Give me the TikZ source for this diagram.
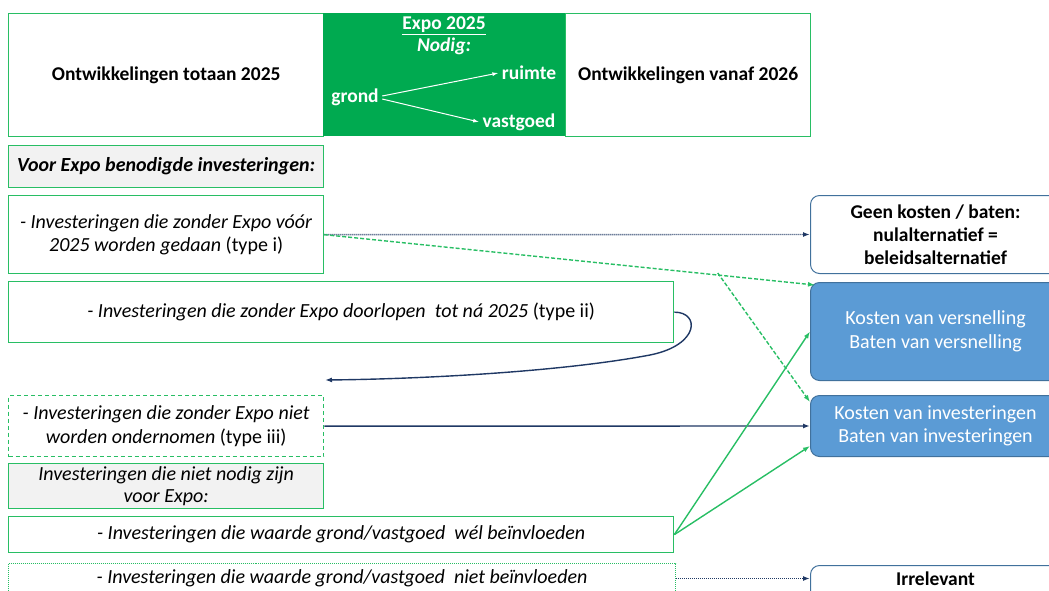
\documentclass[tikz,border=0pt]{standalone}
\usepackage{fontspec}
\setmainfont{Carlito}
\usetikzlibrary{arrows.meta,calc}

\definecolor{expogreen}{RGB}{0,170,80}
\definecolor{linegreen}{RGB}{40,190,100}
\definecolor{boxblue}{RGB}{91,155,213}
\definecolor{edgeblue}{RGB}{65,113,156}
\definecolor{navy}{RGB}{31,56,100}
\definecolor{lightgray}{RGB}{242,242,242}

\tikzset{
  bigfont/.style={font=\fontsize{20}{23.5}\selectfont},
  leftbox/.style={bigfont, draw=linegreen, line width=1.3pt, anchor=north west,
    inner sep=0pt, align=center, text=black},
  headbox/.style={leftbox, fill=lightgray},
  rightbox/.style={bigfont, draw=edgeblue, line width=1pt, rounded corners=9pt,
    anchor=north west, inner sep=0pt, align=center, minimum width=250pt},
  bluebox/.style={rightbox, fill=boxblue, text=white},
  expotext/.style={text=white, font=\fontsize{19.5}{23.5}\selectfont\bfseries},
  whitearrow/.style={white, line width=1pt, -{Latex[length=6pt,width=4pt]}},
  navyarrow/.style={navy, line width=1.4pt, -{Latex[length=7pt,width=5pt]}},
  dotarrow/.style={navy, line width=1.4pt, dash pattern=on 1pt off 1pt,
    -{Latex[length=7pt,width=5pt]}},
  greenarrow/.style={linegreen, line width=1.4pt, -{Latex[length=7pt,width=5pt]}},
  greendash/.style={linegreen, line width=1.4pt, dash pattern=on 4pt off 2pt}
}

\begin{document}
\begin{tikzpicture}[x=1pt,y=-1pt]

\useasboundingbox (0,0) rectangle (1049,590);
\clip (0,0) rectangle (1049,590);

% The top row
\node[leftbox, font=\fontsize{19.5}{23.5}\selectfont\bfseries, minimum width=315pt, minimum height=123pt]
  (tot) at (8,13) {Ontwikkelingen totaan 2025};
\node[fill=expogreen, anchor=north west, inner sep=0pt, minimum width=242pt, minimum height=123pt]
  (expo) at (323,13) {};
\node[leftbox, font=\fontsize{19.5}{23.5}\selectfont\bfseries, minimum width=245pt, minimum height=123pt]
  (vanaf) at (565,13) {Ontwikkelingen vanaf 2026};

% Inside the Expo box
\node[expotext] (expotitle) at (444,26) {\underline{Expo 2025}};
\node[expotext] (nodig) at (444,46) {\itshape Nodig:};
\node[expotext] (grond) at (355,97) {grond};
\node[expotext] (ruimte) at (529,73) {ruimte};
\node[expotext] (vastgoed) at (519,122) {vastgoed};
\draw[whitearrow] ([yshift=1pt]grond.east) -- (ruimte.west);
\draw[whitearrow] ([yshift=-2pt]grond.east) -- (vastgoed.west);

% The investments on the left
\node[headbox, font=\fontsize{20}{23.5}\selectfont\bfseries\itshape, minimum width=315pt, minimum height=42pt]
  (voor) at (8,145) {Voor Expo benodigde investeringen:};
\node[leftbox, minimum width=315pt, minimum height=78pt]
  (t1) at (8,195) {\textit{- Investeringen die zonder Expo vóór}\\ \textit{2025 worden gedaan} (type i)};
\node[leftbox, minimum width=665pt, minimum height=61pt]
  (t2) at (8,281) {\textit{- Investeringen die zonder Expo doorlopen\ \ tot ná 2025} (type ii)};
\node[leftbox, dash pattern=on 4pt off 3pt, minimum width=315pt, minimum height=61pt]
  (t3) at (8,395) {\textit{- Investeringen die zonder Expo niet}\\ \textit{worden ondernomen} (type iii)};
\node[headbox, font=\fontsize{20}{22}\selectfont\itshape, minimum width=315pt, minimum height=45pt]
  (nietnodig) at (8,463) {Investeringen die niet nodig zijn\\ voor Expo:};
\node[leftbox, font=\fontsize{20}{23.5}\selectfont\itshape, minimum width=665pt, minimum height=36pt]
  (wel) at (8,516) {- Investeringen die waarde grond/vastgoed\ \ wél beïnvloeden};
\node[leftbox, line width=1pt, dash pattern=on 1pt off 1pt, font=\fontsize{20}{23.5}\selectfont\itshape,
  minimum width=667pt, minimum height=30pt]
  (niet) at (8,563) {- Investeringen die waarde grond/vastgoed\ \ niet beïnvloeden};

% The outcomes on the right
\node[rightbox, font=\fontsize{19.5}{23}\selectfont\bfseries, minimum height=78pt]
  (geen) at (810,195) {Geen kosten / baten:\\ nulalternatief =\\ beleidsalternatief};
\node[bluebox, minimum height=98pt]
  (vers) at (810,282) {Kosten van versnelling\\ Baten van versnelling};
\node[bluebox, minimum height=61pt]
  (inv) at (810,395) {Kosten van investeringen\\ Baten van investeringen};
\node[rightbox, font=\fontsize{19.5}{23}\selectfont\bfseries, text height=18pt, text depth=22pt,
  inner ysep=2pt]
  (irr) at (810,565) {Irrelevant};

% The connectors
\draw[dotarrow] (t1.east) -- (geen.west);
\coordinate (split) at ($(t1.east)!0.81!(vers.north west)$);
\draw[greendash, -{Latex[length=7pt,width=5pt]}] (t1.east) -- ([xshift=5pt,yshift=-3pt]vers.north west);
\draw[greendash, -{Latex[length=7pt,width=5pt]}] (split) -- ([yshift=-7pt]inv.north west);

\coordinate (iiend) at (325,380);
\draw[navyarrow] (t2.east) .. controls (700,312) and (700,345) .. (650,355)
  .. controls (560,372) and (420,379) .. (iiend);

\draw[navyarrow] (t3.east) -- (inv.west);

\draw[greenarrow] (wel.east) -- (vers.west);
\draw[greenarrow] (wel.east) -- ([yshift=-20pt]inv.west);

\draw[dotarrow] (niet.east) -- (irr.west |- niet.east);

\end{tikzpicture}
\end{document}
